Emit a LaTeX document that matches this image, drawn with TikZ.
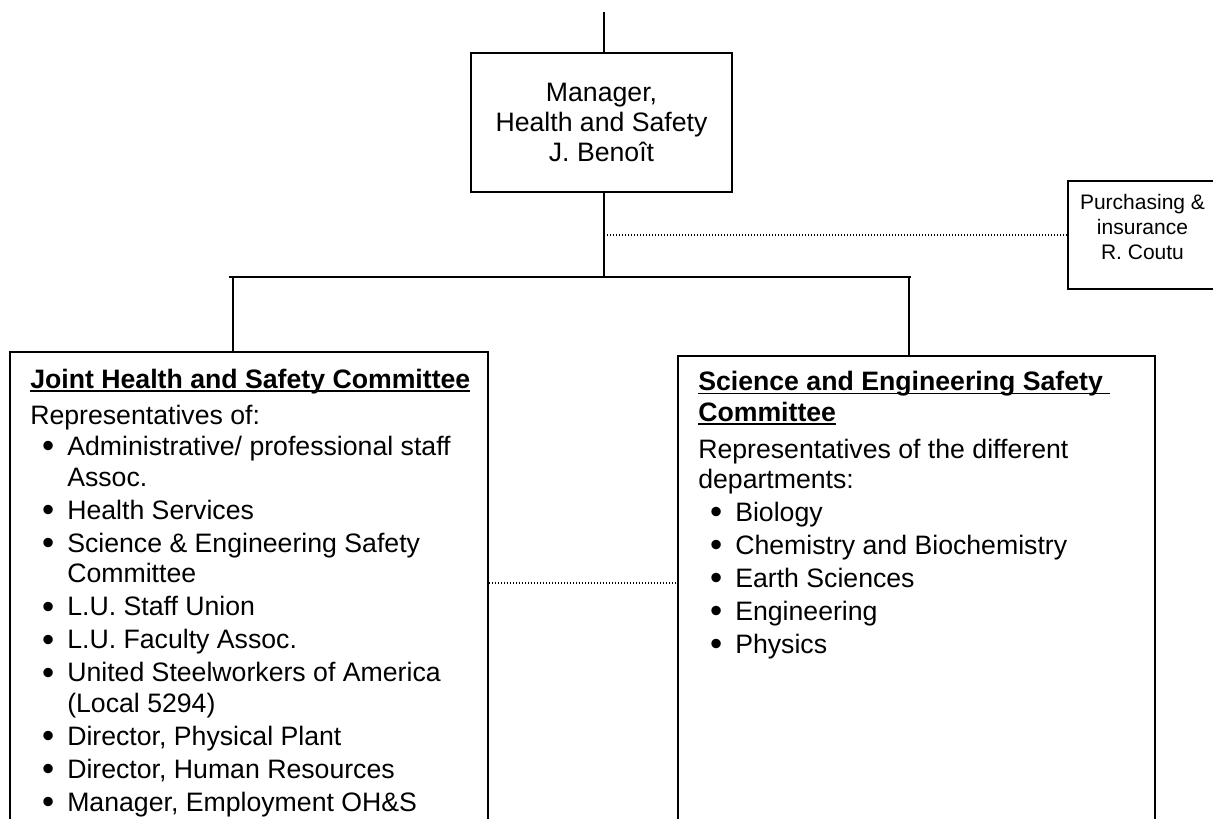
\documentclass[tikz,border=0pt]{standalone}
\usepackage{fontspec}
\setmainfont{Liberation Sans}
% bold heading with a flat underline drawn just under the baseline
\newcommand\ulhead[1]{\setbox0\hbox{\bfseries #1}\rlap{\rule[-2.7pt]{\wd0}{1.2pt}}\box0}
% bullet item start and continuation indent
\newcommand\bitem{\makebox[27.75pt][l]{\hspace*{8.9pt}\raisebox{-1.6pt}{\fontsize{26}{0}\selectfont\textbullet}}}
\newcommand\bcont{\hspace*{27.75pt}}
\newcommand\firststrut{\rule{0pt}{15pt}}
\begin{document}
\begin{tikzpicture}[x=0.75pt,y=-0.75pt,
  box/.style={draw,line width=1.5pt,inner sep=0pt},
  link/.style={line width=1.5pt},
  dotlink/.style={line width=1pt,dash pattern=on 1pt off 1.25pt},
  bodytext/.style={inner sep=0pt,anchor=north west,align=left,
    font=\fontsize{20}{23}\selectfont}
]
\useasboundingbox (0,0) rectangle (1213,818);
\begin{scope}
\clip (0,0) rectangle (1213,818);

% boxes
\node[box,minimum width=195.75pt,minimum height=104.25pt] (mgrbox) at (601.5,122.5) {};
\node[inner sep=0pt,align=center,font=\fontsize{20}{22.5}\selectfont] (mgr) at (601.5,122.5)
  {Manager,\\Health and Safety\\J. Beno\^{\i}t};

\node[box,anchor=north west,minimum width=113.25pt,minimum height=81pt] (purbox) at (1067,180) {};
\node[inner sep=0pt,align=center,font=\fontsize{15.75}{18.75}\selectfont] (pur) at (1142.5,227)
  {Purchasing \&\\insurance\\R. Coutu};

\node[box,anchor=north west,minimum width=358.5pt,minimum height=370pt] (jhsc) at (9,351) {};
\node[box,anchor=north west,minimum width=358pt,minimum height=370pt] (sesc) at (677,355) {};

% box contents
\node[bodytext] (jhsctext) at (30,368) {%
  \firststrut\ulhead{Joint Health and Safety Committee}\\[4.5pt]
  Representatives of:\\
  \bitem Administrative/ professional staff\\
  \bcont Assoc.\\[1.75pt]
  \bitem Health Services\\[1.75pt]
  \bitem Science \& Engineering Safety\\
  \bcont Committee\\[1.75pt]
  \bitem L.U. Staff Union\\[1.75pt]
  \bitem L.U. Faculty Assoc.\\[1.75pt]
  \bitem United Steelworkers of America\\
  \bcont (Local 5294)\\[1.75pt]
  \bitem Director, Physical Plant\\[1.75pt]
  \bitem Director, Human Resources\\[1.75pt]
  \bitem Manager, Employment OH\&S};

\node[bodytext] (sesctext) at (698,370.5) {%
  \firststrut\ulhead{Science and Engineering Safety\ }\\
  \ulhead{Committee}\\[4.5pt]
  Representatives of the different\\
  departments:\\[1.75pt]
  \bitem Biology\\[1.75pt]
  \bitem Chemistry and Biochemistry\\[1.75pt]
  \bitem Earth Sciences\\[1.75pt]
  \bitem Engineering\\[1.75pt]
  \bitem Physics};

% connectors
\coordinate (topend) at (604,12);
\coordinate (trunk) at (604,277);
\coordinate (barL) at (229,277);
\coordinate (barR) at (911,277);
\coordinate (dropL) at (233,277);
\coordinate (dropR) at (909,277);
\coordinate (peer) at (580,583);

\draw[link] (topend) -- (topend |- mgrbox.north);
\draw[link] (trunk |- mgrbox.south) -- (trunk);
\draw[link] (barL) -- (barR);
\draw[link] (dropL) -- (dropL |- jhsc.north);
\draw[link] (dropR) -- (dropR |- sesc.north);
\draw[dotlink] (trunk |- purbox.west) -- (purbox.west);
\draw[dotlink] (peer -| jhsc.east) -- (peer -| sesc.west);
\end{scope}
\end{tikzpicture}
\end{document}
